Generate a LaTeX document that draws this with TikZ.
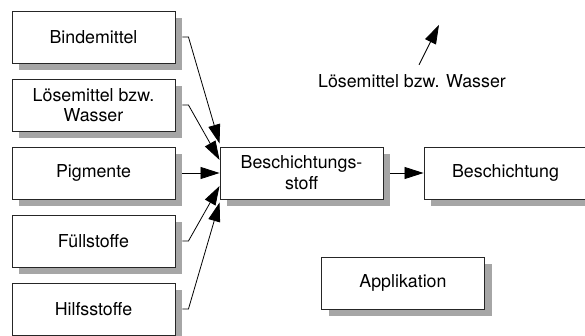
\documentclass[tikz,border=0pt]{standalone}
\usepackage{fontspec}
\setmainfont{TeX Gyre Heros}
\usetikzlibrary{shadows,arrows.meta}

\begin{document}
\begin{tikzpicture}[x=1pt, y=-1pt, >={Triangle[length=19pt,width=12pt]},
  box/.style={draw=black!85, line width=0.9pt, fill=white,
    minimum width=163pt, minimum height=52pt, align=center,
    font=\fontsize{17.8}{20}\selectfont,
    drop shadow={shadow xshift=7pt, shadow yshift=-7pt, fill=black!35, opacity=1}},
  flow/.style={->, line width=0.8pt}]

% Parameters
\def\gap{7}   % gap between box and arrow start
\def\stub{6}  % short horizontal stub

\useasboundingbox (0,0) rectangle (585,336);

% Ingredients (left column)
\node[box] (bind)  at (93.5,37)  {Bindemittel};
\node[box] (loes)  at (93.5,105) {L\"osemittel bzw.\\Wasser};
\node[box] (pigm)  at (93.5,173) {Pigmente};
\node[box] (fuell) at (93.5,241) {F\"ullstoffe};
\node[box] (hilf)  at (93.5,309) {Hilfsstoffe};

% Coating material and coating
\node[box] (stoff) at (301.5,173) {Beschichtungs-\\[1pt]stoff};
\node[box] (schicht) at (505.5,173) {Beschichtung};

% Application
\node[box] (appl) at (403,283) {Applikation};

% Solvent leaves
\node[font=\fontsize{17.8}{20}\selectfont] (aus) at (412,81) {L\"osemittel bzw. Wasser};

% Ingredients into coating material
\draw[flow] ([xshift=\gap]bind.east) -- ++(\stub,0) -- ([yshift=29.5]stoff.west);
\draw[flow] ([xshift=\gap]loes.east) -- ++(\stub,0) -- ([yshift=13]stoff.west);
\draw[flow] ([xshift=\gap]pigm.east) -- (stoff.west);
\draw[flow] ([xshift=\gap]fuell.east) -- ++(\stub,0) -- ([yshift=-13]stoff.west);
\draw[flow] ([xshift=\gap]hilf.east) -- ++(\stub,0) -- ([yshift=-29.5]stoff.west);

% Coating material to coating
\draw[flow] ([xshift=\gap]stoff.east) -- (schicht.west);

% Evaporation
\draw[flow] ([xshift=7,yshift=6]aus.north) -- ++(20,-40);

\end{tikzpicture}
\end{document}
